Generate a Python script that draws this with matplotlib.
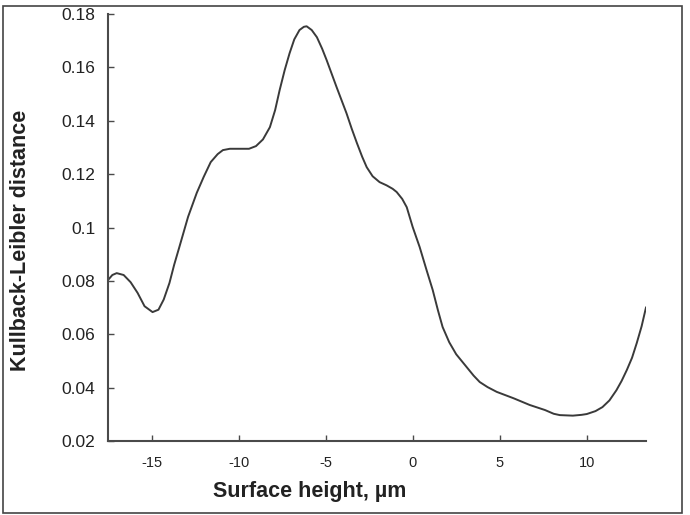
import numpy as np
import matplotlib
matplotlib.use("Agg")
import matplotlib.pyplot as plt
from matplotlib.patches import Rectangle

# values
height = [-17.5, -17.25, -17.0, -16.6, -16.2, -15.8, -15.4, -14.94, -14.6, -14.3, -13.97,
          -13.7, -13.4, -12.9, -12.4, -12.0, -11.6, -11.2, -10.9, -10.5, -9.4, -9.0,
          -8.6, -8.2, -7.9, -7.64, -7.35, -7.07, -6.8, -6.5, -6.25, -6.09, -5.8, -5.5,
          -5.2, -4.94, -4.37, -3.8, -3.5, -3.2, -2.9, -2.64, -2.3, -1.9, -1.5, -1.15,
          -0.92, -0.6, -0.34, 0.0, 0.4, 0.8, 1.15, 1.45, 1.72, 2.1, 2.5, 3.0, 3.5,
          3.85, 4.3, 4.83, 5.8, 6.72, 7.6, 8.1, 8.45, 9.2, 9.7, 10.0, 10.5, 10.9,
          11.3, 11.7, 12.0, 12.3, 12.6, 12.87, 13.15, 13.4]
kl_dist = [0.0803, 0.0822, 0.0829, 0.0822, 0.0795, 0.0755, 0.0705, 0.0683, 0.0692, 0.0730, 0.0792,
           0.0860, 0.0927, 0.1040, 0.1130, 0.1190, 0.1245, 0.1275, 0.1290, 0.1295, 0.1295, 0.1305,
           0.1330, 0.1376, 0.1440, 0.1515, 0.1590, 0.1653, 0.1705, 0.1740, 0.1752, 0.1754, 0.1740, 0.1713,
           0.1670, 0.1627, 0.1526, 0.1428, 0.1370, 0.1316, 0.1265, 0.1226, 0.1192, 0.1170, 0.1158, 0.1145,
           0.1133, 0.1107, 0.1076, 0.1002, 0.0927, 0.0840, 0.0766, 0.0690, 0.0627, 0.0570, 0.0525, 0.0485, 0.0445,
           0.0421, 0.0402, 0.0384, 0.0360, 0.0335, 0.0316, 0.0302, 0.0297, 0.0295, 0.0298, 0.0301, 0.0312, 0.0327,
           0.0352, 0.0390, 0.0425, 0.0466, 0.0512, 0.0567, 0.0630, 0.0700]
xticks = [-15, -10, -5, 0, 5, 10]
yticks = [0.02, 0.04, 0.06, 0.08, 0.1, 0.12, 0.14, 0.16, 0.18]
ytick_labels = ["0.02", "0.04", "0.06", "0.08", "0.1", "0.12", "0.14", "0.16", "0.18"]

plt.rcParams['font.family'] = ['Liberation Sans', 'DejaVu Sans']

fig = plt.figure(figsize=(6.9, 5.15), dpi=100)
ax = fig.add_axes([0.1565, 0.1437, 0.7797, 0.8291])

ax.plot(height, kl_dist, color='#3a3a3a', linewidth=1.4, solid_joinstyle='round')

ax.set_xlim(-17.5, 13.4)
ax.set_ylim(0.02, 0.18)
ax.set_xticks(xticks)
ax.set_xticklabels([str(t) for t in xticks])
ax.set_yticks(yticks)
ax.set_yticklabels(ytick_labels)

for side in ['top', 'right']:
    ax.spines[side].set_visible(False)
for side in ['left', 'bottom']:
    ax.spines[side].set_color('#4a4a4a')
    ax.spines[side].set_linewidth(1.5)

ax.tick_params(axis='both', direction='in', length=4, width=1, color='#4a4a4a',
               labelcolor='#222222')
ax.tick_params(axis='y', pad=9, labelsize=12.5)
ax.tick_params(axis='x', pad=11, labelsize=10.5)

ax.set_xlabel('Surface height, µm', fontsize=15.5, fontweight='bold', color='#222222')
ax.xaxis.set_label_coords(0.375, -0.094)
ax.set_ylabel('Kullback-Leibler distance', fontsize=15.5, fontweight='bold', color='#222222')
ax.yaxis.set_label_coords(-0.143, 0.471)

# thin frame around the whole figure
fig.patches.append(Rectangle((0.0045, 0.004), 0.984, 0.985, transform=fig.transFigure,
                             fill=False, edgecolor='#444444', linewidth=1.2))

fig.savefig('out.png', dpi=100)
